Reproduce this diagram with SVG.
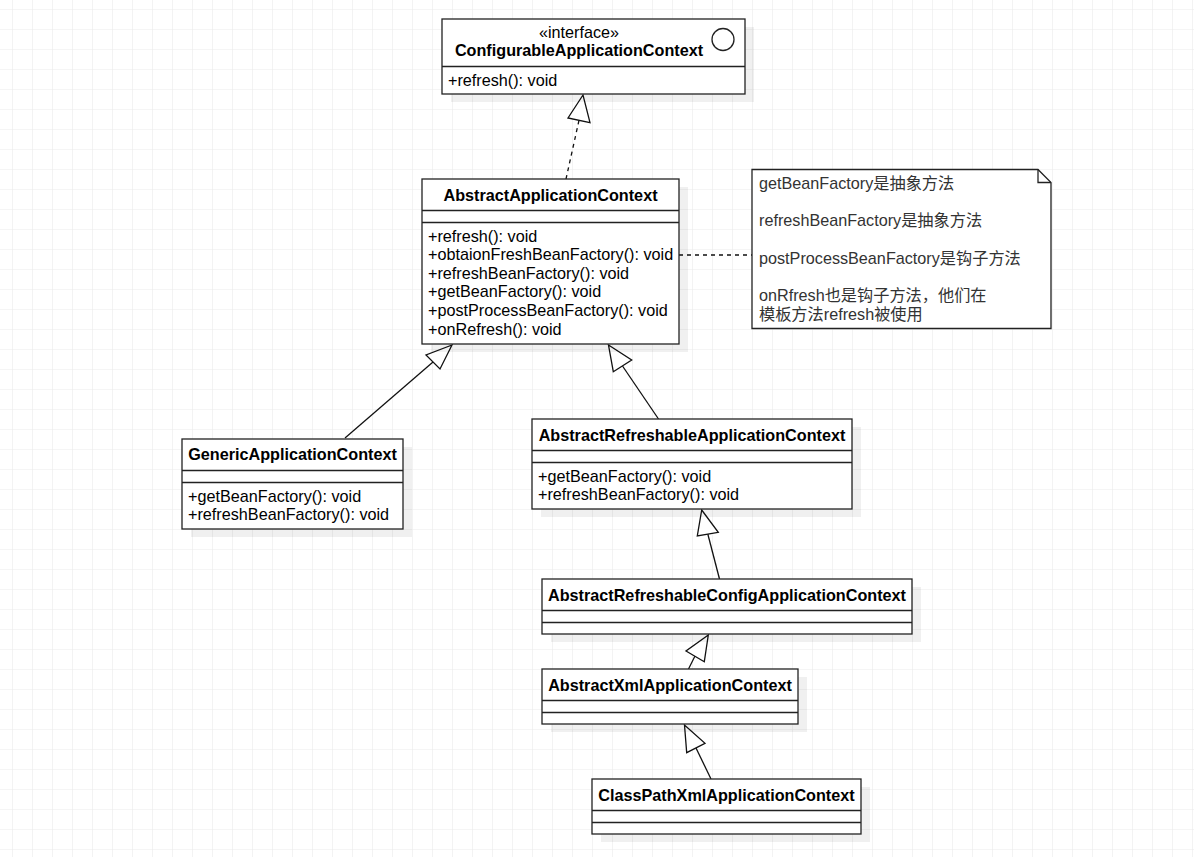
<svg xmlns="http://www.w3.org/2000/svg" width="1194" height="857" viewBox="0 0 1194 857">
<defs>
<pattern id="grid" x="12" y="9" width="20" height="20" patternUnits="userSpaceOnUse">
<path d="M0 0H20M0 0V20" fill="none" stroke="#ebebeb" stroke-width="1.2"/>
</pattern>
<style>
.box{fill:#fff;stroke:#222;stroke-width:1.3}
.sh{fill:#000;opacity:0.06}
.div{stroke:#222;stroke-width:1.3}
.t{font-family:"Liberation Sans",Arial,sans-serif;font-size:16.2px;fill:#000}
.b{font-weight:bold;text-anchor:middle}
.m{text-anchor:middle}
.note{font-family:"Liberation Sans",Arial,"Noto Sans CJK SC",sans-serif;font-size:16.2px;fill:#333}
.edge{fill:none;stroke:#111;stroke-width:1.3}
.dash{stroke-dasharray:4 4}
.head{fill:#fff;stroke:#111;stroke-width:1.3}
</style>
</defs>
<rect width="1194" height="857" fill="#fff"/>
<rect width="1194" height="857" fill="url(#grid)"/>

<g id="connectors">
<path class="edge dash" d="M566 179L579 120.3"/>
<polygon class="head" points="583,95 568,118 590,122.7"/>
<path class="edge dash" d="M679 255H752"/>
<path class="edge" d="M345 438L433 362"/>
<polygon class="head" points="452,345 426,355 440,369"/>
<path class="edge" d="M658.5 419L622.5 366"/>
<polygon class="head" points="608.5,345 631.7,360 613.3,371.7"/>
<path class="edge" d="M719.5 579L707.8 534"/>
<polygon class="head" points="701.7,510 718.3,532.3 697.3,536"/>
<path class="edge" d="M688.5 669L695 656"/>
<polygon class="head" points="708.3,635 686,651 704.3,661.7"/>
<path class="edge" d="M711 779L696 748"/>
<polygon class="head" points="684.5,725 686.7,752.7 705,743.3"/>
</g>

<g id="ConfigurableApplicationContext">
<rect class="sh" x="451" y="27" width="303" height="75"/>
<rect class="box" x="442" y="19" width="303" height="75"/>
<line class="div" x1="442" y1="66.5" x2="745" y2="66.5"/>
<circle cx="723" cy="39.5" r="11" fill="none" stroke="#222" stroke-width="1.3"/>
<text class="t m" x="579" y="38">«interface»</text>
<text class="t b" x="579" y="56">ConfigurableApplicationContext</text>
<text class="t" x="448" y="85.5">+refresh(): void</text>
</g>

<g id="AbstractApplicationContext">
<rect class="sh" x="431" y="187" width="257" height="165"/>
<rect class="box" x="422" y="179" width="257" height="165"/>
<line class="div" x1="422" y1="210.5" x2="679" y2="210.5"/>
<line class="div" x1="422" y1="222.5" x2="679" y2="222.5"/>
<text class="t b" x="550.5" y="200.5">AbstractApplicationContext</text>
<text class="t" x="428" y="241.5">+refresh(): void</text>
<text class="t" x="428" y="260.2">+obtaionFreshBeanFactory(): void</text>
<text class="t" x="428" y="278.8">+refreshBeanFactory(): void</text>
<text class="t" x="428" y="297.4">+getBeanFactory(): void</text>
<text class="t" x="428" y="316.1">+postProcessBeanFactory(): void</text>
<text class="t" x="428" y="334.8">+onRefresh(): void</text>
</g>

<g id="note">
<path d="M752 169.5H1038L1051 182.5V328.5H752Z" fill="#fff" stroke="#222" stroke-width="1.3"/>
<path d="M1038 169.5V182.5H1051" fill="none" stroke="#222" stroke-width="1.3"/>
<text class="note" x="759" y="188.8">getBeanFactory是抽象方法</text>
<text class="note" x="759" y="226.2">refreshBeanFactory是抽象方法</text>
<text class="note" x="759" y="263.8">postProcessBeanFactory是钩子方法</text>
<text class="note" x="759" y="300.5">onRfresh也是钩子方法，他们在</text>
<text class="note" x="759" y="319.5">模板方法refresh被使用</text>
</g>

<g id="GenericApplicationContext">
<rect class="sh" x="191" y="447" width="221" height="90"/>
<rect class="box" x="182" y="439" width="221" height="90"/>
<line class="div" x1="182" y1="470.5" x2="403" y2="470.5"/>
<line class="div" x1="182" y1="482.5" x2="403" y2="482.5"/>
<text class="t b" x="292.5" y="460">GenericApplicationContext</text>
<text class="t" x="188" y="501.5">+getBeanFactory(): void</text>
<text class="t" x="188" y="520">+refreshBeanFactory(): void</text>
</g>

<g id="AbstractRefreshableApplicationContext">
<rect class="sh" x="541" y="427" width="320" height="90"/>
<rect class="box" x="532" y="419" width="320" height="90"/>
<line class="div" x1="532" y1="450.5" x2="852" y2="450.5"/>
<line class="div" x1="532" y1="462.5" x2="852" y2="462.5"/>
<text class="t b" x="692" y="440.5">AbstractRefreshableApplicationContext</text>
<text class="t" x="538" y="481.5">+getBeanFactory(): void</text>
<text class="t" x="538" y="500">+refreshBeanFactory(): void</text>
</g>

<g id="AbstractRefreshableConfigApplicationContext">
<rect class="sh" x="551" y="587" width="370" height="55"/>
<rect class="box" x="542" y="579" width="370" height="55"/>
<line class="div" x1="542" y1="610.5" x2="912" y2="610.5"/>
<line class="div" x1="542" y1="622.5" x2="912" y2="622.5"/>
<text class="t b" x="727" y="600.5">AbstractRefreshableConfigApplicationContext</text>
</g>

<g id="AbstractXmlApplicationContext">
<rect class="sh" x="551" y="677" width="256" height="55"/>
<rect class="box" x="542" y="669" width="256" height="55"/>
<line class="div" x1="542" y1="700.5" x2="798" y2="700.5"/>
<line class="div" x1="542" y1="712.5" x2="798" y2="712.5"/>
<text class="t b" x="670" y="690.5">AbstractXmlApplicationContext</text>
</g>

<g id="ClassPathXmlApplicationContext">
<rect class="sh" x="601" y="787" width="269" height="55"/>
<rect class="box" x="592" y="779" width="269" height="55"/>
<line class="div" x1="592" y1="810.5" x2="861" y2="810.5"/>
<line class="div" x1="592" y1="822.5" x2="861" y2="822.5"/>
<text class="t b" x="726.5" y="800.5">ClassPathXmlApplicationContext</text>
</g>
</svg>
